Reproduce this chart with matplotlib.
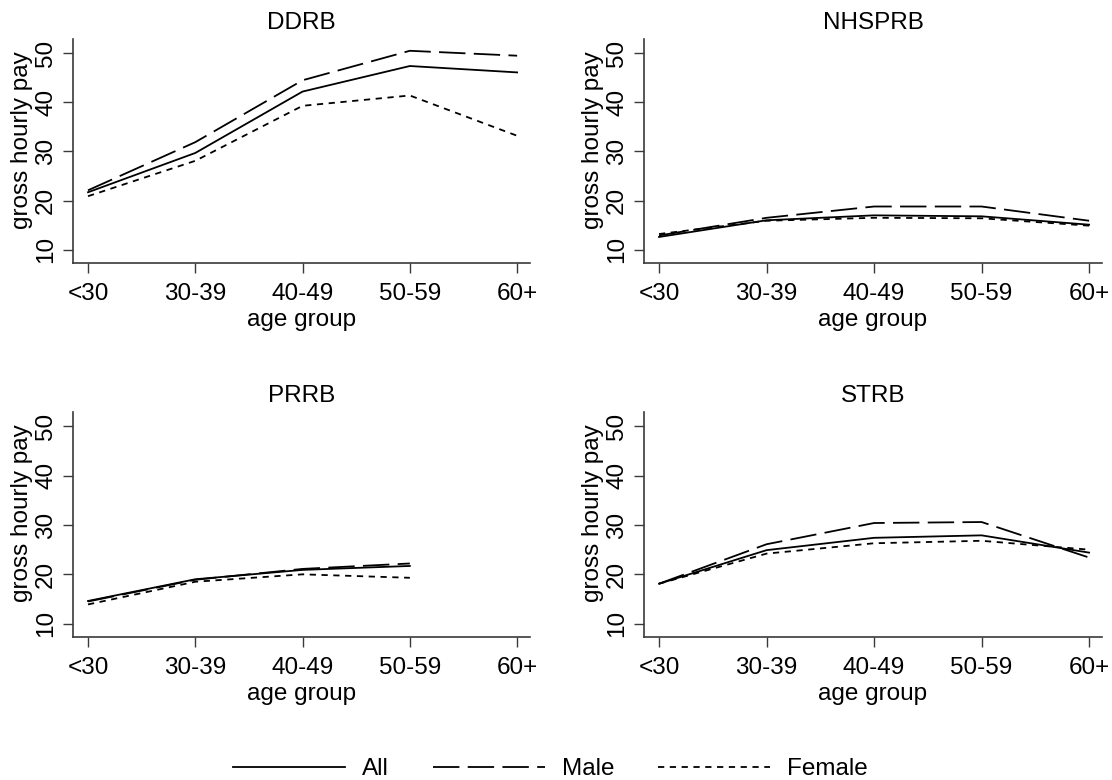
import matplotlib
matplotlib.use("Agg")
import matplotlib.pyplot as plt
import numpy as np
from matplotlib.lines import Line2D

plt.rcParams['font.family'] = ['Liberation Sans', 'DejaVu Sans']
plt.rcParams['lines.scale_dashes'] = False

age_groups = ["<30", "30-39", "40-49", "50-59", "60+"]
panels = ["DDRB", "NHSPRB", "PRRB", "STRB"]

all_vals = {
    "DDRB":   [21.7, 29.7, 42.2, 47.4, 46.1],
    "NHSPRB": [12.6, 16.0, 17.0, 16.8, 15.1],
    "PRRB":   [14.6, 19.0, 20.9, 21.7, np.nan],
    "STRB":   [18.1, 24.9, 27.4, 27.9, 24.4],
}
male_vals = {
    "DDRB":   [22.1, 31.9, 44.5, 50.5, 49.5],
    "NHSPRB": [12.9, 16.5, 18.8, 18.8, 15.9],
    "PRRB":   [14.5, 18.9, 21.1, 22.2, np.nan],
    "STRB":   [18.1, 26.1, 30.4, 30.6, 23.4],
}
female_vals = {
    "DDRB":   [20.9, 28.1, 39.3, 41.4, 33.2],
    "NHSPRB": [13.2, 15.9, 16.5, 16.4, 14.9],
    "PRRB":   [13.9, 18.5, 20.0, 19.3, np.nan],
    "STRB":   [18.1, 24.2, 26.3, 26.8, 25.0],
}
y_ticks = [10, 20, 30, 40, 50]

series = [("All", all_vals, "-"), ("Male", male_vals, (0, (19, 6))), ("Female", female_vals, (0, (4.5, 4)))]

FS = 17.5
spine_c = "#3a3a3a"
fig = plt.figure(figsize=(11.12, 7.8), dpi=100)

W, H = 1112, 780
boxes = {
    "DDRB":   (73, 39, 530, 263),
    "NHSPRB": (644, 39, 1102, 263),
    "PRRB":   (73, 412, 530, 637),
    "STRB":   (644, 412, 1102, 637),
}
x = np.arange(len(age_groups))
for name in panels:
    l, t, r, b = boxes[name]
    ax = fig.add_axes([l / W, 1 - b / H, (r - l) / W, (b - t) / H])
    for lab, d, ls in series:
        ax.plot(x, d[name], color="black", lw=1.3, linestyle=ls)
    ax.set_xlim(-0.14, 4.12)
    ax.set_ylim(7.3, 52.9)
    ax.set_xticks(x)
    ax.set_xticklabels(age_groups, fontsize=FS)
    ax.set_yticks(y_ticks)
    ax.set_yticklabels([str(v) for v in y_ticks], fontsize=FS, rotation=90, va="center")
    ax.spines["top"].set_visible(False)
    ax.spines["right"].set_visible(False)
    for s in ("left", "bottom"):
        ax.spines[s].set_color(spine_c)
        ax.spines[s].set_linewidth(1.2)
    ax.tick_params(axis="both", length=7.5, width=1.0, color=spine_c)
    ax.tick_params(axis="x", pad=7)
    ax.tick_params(axis="y", pad=4)
    ax.set_xlabel("age group", fontsize=FS, labelpad=3)
    ax.set_ylabel("gross hourly pay", fontsize=FS)
    ax.yaxis.set_label_coords(-0.088, 0.55)
    ax.set_title(name, fontsize=FS, pad=7)

handles = [Line2D([0], [0], color="black", lw=1.3, linestyle=ls) for _, _, ls in series]
fig.legend(handles, [s[0] for s in series], loc="center", bbox_to_anchor=(0.495, 0.014),
           ncol=3, frameon=False, fontsize=FS, handlelength=4.6, columnspacing=1.8,
           handletextpad=0.7, borderaxespad=0, borderpad=0)

fig.savefig("out.png", dpi=100)
